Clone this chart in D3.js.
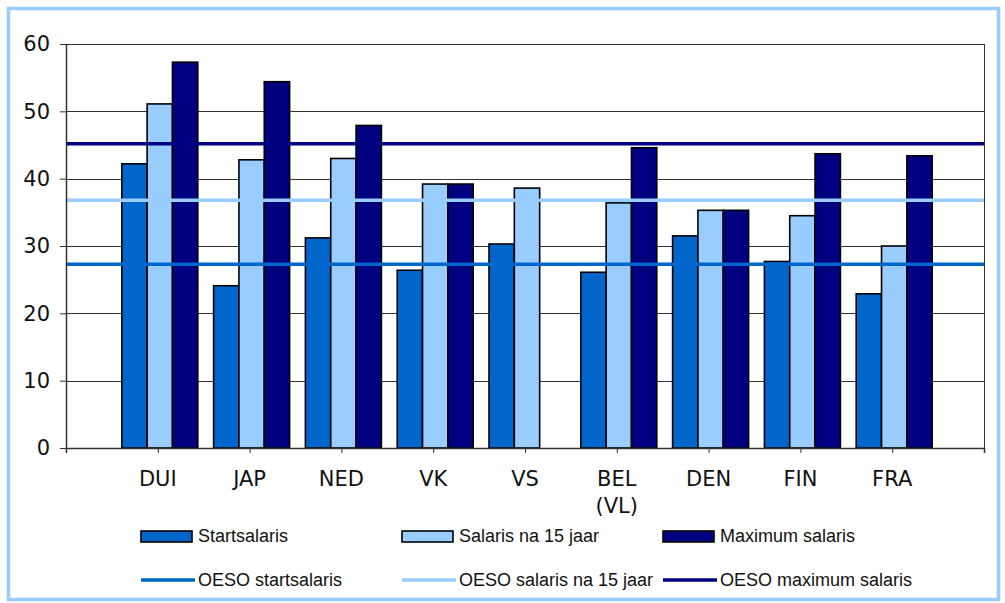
<!DOCTYPE html>
<meta charset="utf-8">
<html>
  <head>
    <title>Salarissen leerkrachten</title>
    <style>
      body { margin: 0; background: #fff; }
      text.axis { font-family: "DejaVu Sans", Verdana, sans-serif; font-size: 21px; fill: #111; }
      text.legend { font-family: "Liberation Sans", Arial, sans-serif; font-size: 18px; fill: #111; }
    </style>
    <script src="https://cdn.jsdelivr.net/npm/d3@7"></script>
  </head>
  <body>
    <div id="chart"></div>
    <script>
    // data
    var categories = ["DUI", "JAP", "NED", "VK", "VS", "BEL (VL)", "DEN", "FIN", "FRA"];
    var startsalaris = [42.2, 24.1, 31.2, 26.4, 30.3, 26.1, 31.5, 27.7, 22.9];
    var salaris15 = [51.1, 42.8, 43.0, 39.2, 38.6, 36.4, 35.3, 34.5, 30.0];
    var maxSalaris = [57.3, 54.4, 47.9, 39.2, null, 44.6, 35.3, 43.7, 43.4];
    var barSeries = ["Startsalaris", "Salaris na 15 jaar", "Maximum salaris"];
    var lineSeries = ["OESO startsalaris", "OESO salaris na 15 jaar", "OESO maximum salaris"];
    var oesoValues = [27.3, 36.8, 45.2];
    var yTicks = [0, 10, 20, 30, 40, 50, 60];
    var colors = ["#0066CC", "#99CCFF", "#000080"];

    var width = 1005, height = 603;
    var plot = { left: 66, right: 984, top: 44, bottom: 448 };

    var svg = d3.select("#chart").append("svg")
      .attr("width", width)
      .attr("height", height);

    // outer frame
    svg.append("rect")
      .attr("x", 8.5).attr("y", 8.5)
      .attr("width", 990).attr("height", 591)
      .attr("fill", "#fff")
      .attr("stroke", "#99CCFF")
      .attr("stroke-width", 3.5);

    var x = d3.scalePoint()
      .domain(categories)
      .range([plot.left, plot.right])
      .padding(1);

    var sub = d3.scaleBand()
      .domain(barSeries)
      .range([-36, 40]);

    var y = d3.scaleLinear()
      .domain([0, 60])
      .range([plot.bottom, plot.top]);

    // gridlines
    svg.append("g").selectAll("line")
      .data(yTicks.filter(function(d) { return d > 0; }))
      .enter().append("line")
      .attr("x1", plot.left).attr("x2", plot.right)
      .attr("y1", function(d) { return Math.round(y(d)) + 0.5; })
      .attr("y2", function(d) { return Math.round(y(d)) + 0.5; })
      .attr("stroke", "#333").attr("stroke-width", 1);

    // right border of plot
    svg.append("line")
      .attr("x1", plot.right + 0.5).attr("x2", plot.right + 0.5)
      .attr("y1", plot.top).attr("y2", plot.bottom)
      .attr("stroke", "#333");

    // bars
    var seriesData = [startsalaris, salaris15, maxSalaris];
    var groups = svg.append("g").selectAll("g")
      .data(categories)
      .enter().append("g")
      .attr("transform", function(d) { return "translate(" + x(d) + ",0)"; });

    groups.selectAll("rect")
      .data(function(d, i) {
        return barSeries.map(function(s, j) { return { key: s, value: seriesData[j][i], color: colors[j] }; })
          .filter(function(e) { return e.value != null; });
      })
      .enter().append("rect")
      .attr("x", function(d) { return sub(d.key); })
      .attr("width", sub.bandwidth())
      .attr("y", function(d) { return y(d.value); })
      .attr("height", function(d) { return y(0) - y(d.value); })
      .attr("fill", function(d) { return d.color; })
      .attr("stroke", "#000")
      .attr("stroke-width", 1.6);

    // OESO lines
    svg.append("g").selectAll("line")
      .data(oesoValues)
      .enter().append("line")
      .attr("x1", plot.left).attr("x2", plot.right)
      .attr("y1", function(d) { return y(d); })
      .attr("y2", function(d) { return y(d); })
      .attr("stroke", function(d, i) { return colors[i]; })
      .attr("stroke-width", 3.5);

    // y axis
    var yAxis = svg.append("g")
      .attr("transform", "translate(" + plot.left + ",0)")
      .call(d3.axisLeft(y).tickValues(yTicks).tickSize(6).tickSizeOuter(0).tickPadding(10));
    yAxis.select(".domain").attr("stroke", "#333").attr("stroke-width", 1.5);
    yAxis.selectAll(".tick line").attr("stroke", "#333");
    yAxis.selectAll("text").attr("class", "axis").attr("font-size", null).attr("font-family", null);

    // x axis
    var xAxis = svg.append("g")
      .attr("transform", "translate(0," + plot.bottom + ")")
      .call(d3.axisBottom(x).tickSize(5).tickSizeOuter(5).tickFormat(""));
    xAxis.select(".domain").attr("stroke", "#333").attr("stroke-width", 1.5);
    xAxis.selectAll(".tick line").attr("stroke", "#333");

    svg.append("g").selectAll("text")
      .data(categories)
      .enter().append("text")
      .attr("class", "axis")
      .attr("text-anchor", "middle")
      .attr("x", function(d) { return x(d); })
      .attr("y", plot.bottom + 38)
      .each(function(d) {
        var parts = d.split(" ");
        var t = d3.select(this);
        parts.forEach(function(p, i) {
          t.append("tspan").attr("x", x(d)).attr("dy", i === 0 ? 0 : 27).text(p);
        });
      });

    // legend
    var legendX = [141, 402, 663];
    var bars = svg.append("g").selectAll("g")
      .data(barSeries)
      .enter().append("g")
      .attr("transform", function(d, i) { return "translate(" + legendX[i] + ",531)"; });
    bars.append("rect")
      .attr("width", 51).attr("height", 11)
      .attr("fill", function(d, i) { return colors[i]; })
      .attr("stroke", "#000").attr("stroke-width", 1.6);
    bars.append("text")
      .attr("class", "legend")
      .attr("x", 57).attr("y", 11)
      .text(function(d) { return d; });

    var lines = svg.append("g").selectAll("g")
      .data(lineSeries)
      .enter().append("g")
      .attr("transform", function(d, i) { return "translate(" + legendX[i] + ",580)"; });
    lines.append("line")
      .attr("x1", 0).attr("x2", 54)
      .attr("stroke", function(d, i) { return colors[i]; })
      .attr("stroke-width", 3.5);
    lines.append("text")
      .attr("class", "legend")
      .attr("x", 57).attr("y", 6)
      .text(function(d) { return d; });
    </script>
  </body>
</html>
